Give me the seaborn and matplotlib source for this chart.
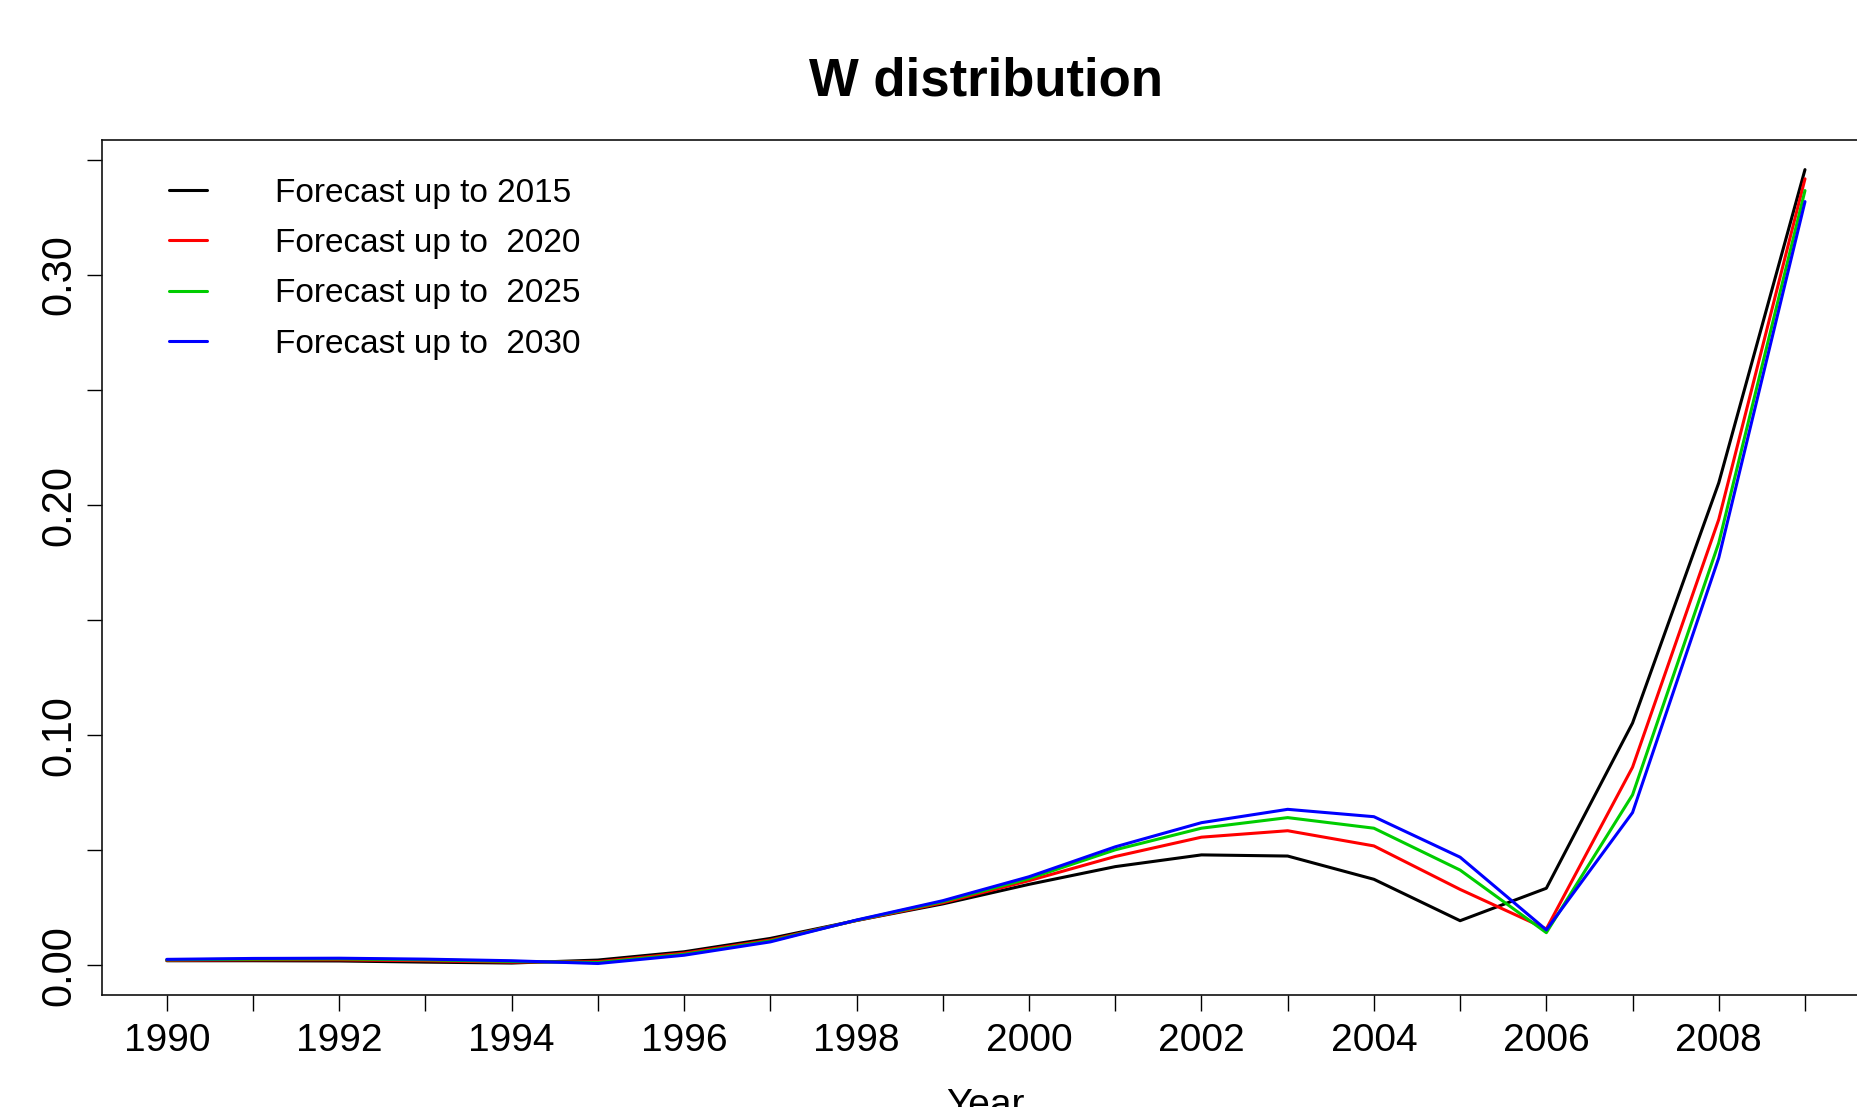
import matplotlib
matplotlib.use("Agg")
import matplotlib.pyplot as plt
from matplotlib import font_manager
from matplotlib.lines import Line2D
import seaborn as sns
import pandas as pd

years = list(range(1990, 2010))
f2015 = [0.0020, 0.0020, 0.0019, 0.0014, 0.0010, 0.0023, 0.0059, 0.0117, 0.0195, 0.0267,
         0.0352, 0.0429, 0.0480, 0.0475, 0.0374, 0.0194, 0.0335, 0.1053, 0.2097, 0.3458]
f2020 = [0.0022, 0.0024, 0.0024, 0.0020, 0.0014, 0.0016, 0.0053, 0.0110, 0.0195, 0.0272,
         0.0368, 0.0473, 0.0557, 0.0585, 0.0519, 0.0330, 0.0158, 0.0861, 0.1938, 0.3418]
f2025 = [0.0024, 0.0027, 0.0028, 0.0024, 0.0017, 0.0012, 0.0048, 0.0106, 0.0196, 0.0277,
         0.0377, 0.0502, 0.0596, 0.0642, 0.0596, 0.0414, 0.0142, 0.0741, 0.1836, 0.3367]
f2030 = [0.0026, 0.0030, 0.0031, 0.0027, 0.0020, 0.0008, 0.0044, 0.0102, 0.0197, 0.0281,
         0.0385, 0.0515, 0.0620, 0.0678, 0.0646, 0.0470, 0.0154, 0.0664, 0.1771, 0.3319]
series_labels = ["Forecast up to 2015", "Forecast up to  2020",
                 "Forecast up to  2025", "Forecast up to  2030"]
colors = ["#000000", "#FF0000", "#00CD00", "#0000FF"]
y_ticks = [0.00, 0.05, 0.10, 0.15, 0.20, 0.25, 0.30, 0.35]
y_ticklabels = ["0.00", "", "0.10", "", "0.20", "", "0.30", ""]
x_ticklabels = [str(y) if y % 2 == 0 else "" for y in years]

frames = []
for lab, vals in zip(series_labels, [f2015, f2020, f2025, f2030]):
    frames.append(pd.DataFrame({"Year": years, "W": vals, "Series": lab}))
df = pd.concat(frames, ignore_index=True)

sns.set_theme(style="white")
installed = {f.name for f in font_manager.fontManager.ttflist}
has_narrow = "Liberation Sans Narrow" in installed
narrow = ["Liberation Sans Narrow", "Liberation Sans", "DejaVu Sans"] if has_narrow else ["Liberation Sans", "DejaVu Sans"]
regular = ["Liberation Sans", "DejaVu Sans"]
plt.rcParams["font.family"] = narrow
for k in ["text.color", "axes.labelcolor", "xtick.color", "ytick.color"]:
    plt.rcParams[k] = "black"

fs_tick = 31 if has_narrow else 28
fs_title = 43 if has_narrow else 38
fs_leg = 26 if has_narrow else 24

W, H = 1857, 1107
fig = plt.figure(figsize=(W / 100, H / 100), dpi=100)
left, right, top, bottom = 101.8, 1870.0, 139.7, 994.8
ax = fig.add_axes([left / W, 1 - bottom / H, (right - left) / W, (bottom - top) / H])

sns.lineplot(data=df, x="Year", y="W", hue="Series", palette=colors,
             linewidth=2.2, ax=ax, legend=False, sort=False)

ax.set_xlim(1989.246, 2009.754)
ax.set_ylim(-0.0128, 0.3588)

ax.set_xticks(years)
ax.set_xticklabels(x_ticklabels, fontsize=fs_tick, family=narrow)
ax.set_yticks(y_ticks)
ax.set_yticklabels(y_ticklabels, fontsize=30, family=regular, rotation=90, va="center")
ax.tick_params(axis="x", length=11.5, width=1.0, colors="black", pad=9, bottom=True)
ax.tick_params(axis="y", length=11, width=1.0, colors="black", pad=5, left=True)

for s in ["left", "top", "bottom"]:
    ax.spines[s].set_visible(True)
    ax.spines[s].set_color("#111111")
    ax.spines[s].set_linewidth(1.2)
ax.spines["right"].set_visible(False)

ax.set_ylabel("")
ax.set_xlabel("Year", fontsize=fs_tick, family=narrow, labelpad=21, color="black")
ax.set_title("W distribution", fontsize=fs_title, fontweight="bold", family=narrow,
             pad=32, color="black")

handles = [Line2D([], [], color=c, linewidth=2.2) for c in colors]
leg = ax.legend(handles, series_labels, loc="upper left", bbox_to_anchor=(0.0306, 0.971),
                frameon=False, handlelength=1.14, handletextpad=2.03,
                labelspacing=0.58, borderaxespad=0.0,
                prop={"family": narrow, "size": fs_leg})
for t in leg.get_texts():
    t.set_color("black")

fig.savefig("out.png", dpi=100)
